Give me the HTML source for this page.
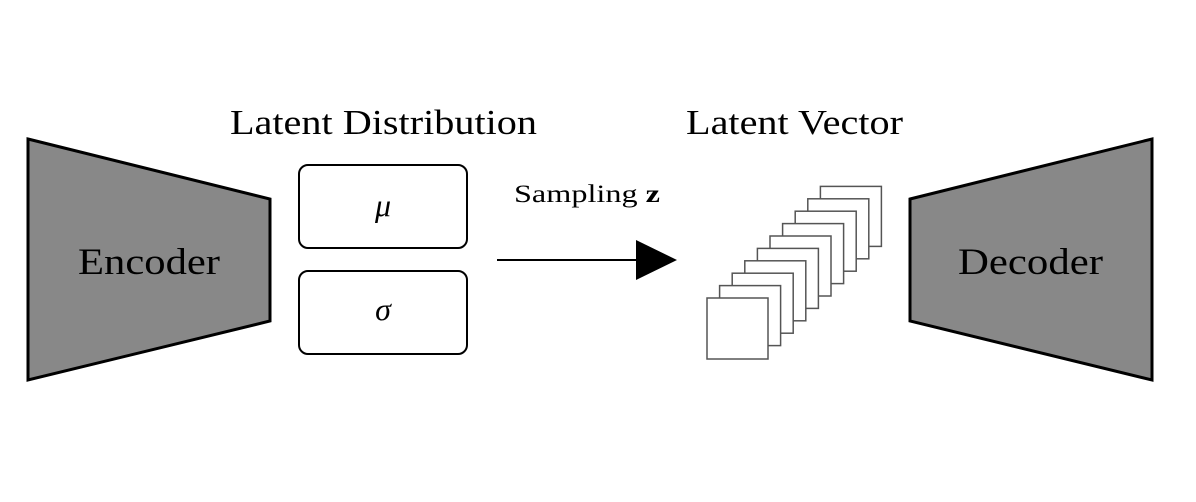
<!DOCTYPE html>
<html><head><meta charset="utf-8"><style>body{margin:0;background:#fff}svg{display:block}</style></head><body>
<svg width="1196" height="502" xmlns="http://www.w3.org/2000/svg" font-family="Liberation Serif, serif">
<polygon points="28,139 270,199 270,321 28,380" fill="#888" stroke="#000" stroke-width="3"/>
<polygon points="910,199 1152,139 1152,380 910,321" fill="#888" stroke="#000" stroke-width="3"/>
<text x="78" y="274" font-size="37" textLength="142" lengthAdjust="spacingAndGlyphs">Encoder</text>
<text x="958" y="274" font-size="37" textLength="145" lengthAdjust="spacingAndGlyphs">Decoder</text>
<text x="230" y="134" font-size="35" textLength="307" lengthAdjust="spacingAndGlyphs">Latent Distribution</text>
<text x="686" y="134" font-size="35" textLength="217" lengthAdjust="spacingAndGlyphs">Latent Vector</text>
<rect x="299" y="165" width="168" height="83" rx="9" fill="#fff" stroke="#000" stroke-width="2"/>
<rect x="299" y="271" width="168" height="83" rx="9" fill="#fff" stroke="#000" stroke-width="2"/>
<text x="383" y="216" font-size="32" font-style="italic" text-anchor="middle">μ</text>
<text x="383" y="320" font-size="32" font-style="italic" text-anchor="middle">σ</text>
<text x="514" y="202" font-size="25" textLength="146" lengthAdjust="spacingAndGlyphs">Sampling <tspan font-weight="bold">z</tspan></text>
<line x1="497" y1="260" x2="640" y2="260" stroke="#000" stroke-width="2"/>
<polygon points="636,240 677,260 636,280" fill="#000"/>
<g fill="#fff" stroke="#555" stroke-width="1.5">
<rect x="820.4" y="186.4" width="61" height="60"/>
<rect x="807.8" y="198.8" width="61" height="60"/>
<rect x="795.2" y="211.2" width="61" height="60"/>
<rect x="782.6" y="223.6" width="61" height="60"/>
<rect x="770" y="236" width="61" height="60"/>
<rect x="757.4" y="248.4" width="61" height="60"/>
<rect x="744.8" y="260.8" width="61" height="60"/>
<rect x="732.2" y="273.2" width="61" height="60"/>
<rect x="719.6" y="285.6" width="61" height="60"/>
<rect x="707" y="298" width="61" height="61"/>
</g>
</svg>
</body></html>
